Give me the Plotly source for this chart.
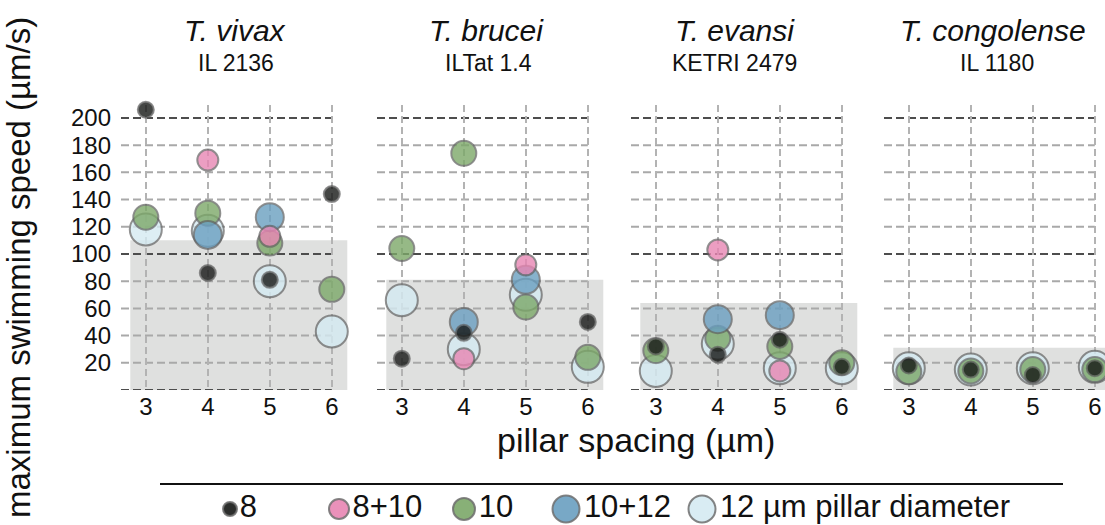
import plotly.graph_objects as go

# ---------------- data ----------------
spacings = [3, 4, 5, 6]
categories = ["8", "8+10", "10", "10+12", "12"]
legend_labels = ["8", "8+10", "10", "10+12", "12 µm pillar diameter"]
species = ["T. vivax", "T. brucei", "T. evansi", "T. congolense"]
strains = ["IL 2136", "ILTat 1.4", "KETRI 2479", "IL 1180"]

vivax_8 = [206, 86, 81, 144]
vivax_8_10 = [None, 169, 113, None]
vivax_10 = [127, 130, 108, 74]
vivax_10_12 = [None, 114, 127, None]
vivax_12 = [118, 117, 80, 43]

brucei_8 = [23, 42, None, 50]
brucei_8_10 = [None, 23, 92, None]
brucei_10 = [104, 174, 61, 24]
brucei_10_12 = [None, 50, 81, None]
brucei_12 = [66, 30, 70, 17]

evansi_8 = [32, 26, 37, 17]
evansi_8_10 = [None, 103, 14, None]
evansi_10 = [29, 38, 32, 20]
evansi_10_12 = [None, 52, 55, None]
evansi_12 = [14, 34, 16, 16]

congolense_8 = [18, 15, 11, 16]
congolense_8_10 = [None, None, None, None]
congolense_10 = [13.5, 14, 15, 15]
congolense_10_12 = [None, None, None, None]
congolense_12 = [16, 15, 16, 17]

shaded_max = [110, 81, 64, 31]
y_ticks = [20, 40, 60, 80, 100, 120, 140, 160, 180, 200]
dark_lines = [0, 100, 200]

panel_data = [
    {"8": vivax_8, "8+10": vivax_8_10, "10": vivax_10, "10+12": vivax_10_12, "12": vivax_12},
    {"8": brucei_8, "8+10": brucei_8_10, "10": brucei_10, "10+12": brucei_10_12, "12": brucei_12},
    {"8": evansi_8, "8+10": evansi_8_10, "10": evansi_10, "10+12": evansi_10_12, "12": evansi_12},
    {"8": congolense_8, "8+10": congolense_8_10, "10": congolense_10,
     "10+12": congolense_10_12, "12": congolense_12},
]

# ---------------- styles ----------------
W, H = 1105, 525
FONT = "Liberation Sans, Arial, Helvetica, sans-serif"
colors = {"8": "#161816", "8+10": "#e886b3", "10": "#7ca869",
          "10+12": "#6a9fc0", "12": "#d5eaf2"}
sizes = {"8": 16, "8+10": 21, "10": 25, "10+12": 28, "12": 32}
legend_sizes = {"8": 14, "8+10": 20, "10": 22, "10+12": 27, "12": 27}
draw_order = ["12", "10", "10+12", "8+10", "8"]
outline = "rgba(95,95,95,0.85)"

panel_left_px = [121, 377, 631, 884]
panel_width_px = 227
px_per_unit = 62.0
x_start = 2.6
plot_top_px, plot_bottom_px = 105, 390
y_range = [0, 209.5]
title_cx = [235, 486, 735, 993]
strain_cx = [236, 488, 734, 997]

def px_x(p):
    return p / W

def px_y(p):
    return 1 - p / H

fig = go.Figure()
layout = dict(
    width=W, height=H,
    margin=dict(l=0, r=0, t=0, b=0),
    paper_bgcolor="white", plot_bgcolor="white",
    showlegend=False,
    font=dict(family=FONT, color="#111"),
)
shapes = []
annotations = []

for i in range(4):
    n = i + 1
    xa = "x" if n == 1 else f"x{n}"
    ya = "y" if n == 1 else f"y{n}"
    left = panel_left_px[i]
    right = min(left + panel_width_px, W)
    x_end = x_start + (right - left) / px_per_unit
    layout["xaxis" if n == 1 else f"xaxis{n}"] = dict(
        domain=[px_x(left), px_x(right)], range=[x_start, x_end],
        anchor=ya, tickvals=spacings, ticktext=[str(s) for s in spacings],
        showgrid=True, gridcolor="#b3b3b3", gridwidth=2, griddash="7px,4px",
        zeroline=False, showline=False, ticks="",
        tickfont=dict(size=24, family=FONT, color="#111"),
    )
    layout["yaxis" if n == 1 else f"yaxis{n}"] = dict(
        domain=[px_y(plot_bottom_px), px_y(plot_top_px)], range=y_range,
        anchor=xa, tickvals=y_ticks, showticklabels=(n == 1),
        showgrid=False, zeroline=False, showline=False, ticks="",
        ticklabelstandoff=9,
        tickfont=dict(size=24, family=FONT, color="#111"),
    )
    # shaded region
    shapes.append(dict(type="rect", xref=xa, yref=ya, x0=2.75, x1=6.25,
                       y0=0, y1=shaded_max[i], fillcolor="#dfe0df",
                       line=dict(width=0), layer="below"))
    # horizontal dashed lines ending at the last spacing
    for yv in [0] + y_ticks:
        dark = yv in dark_lines
        shapes.append(dict(type="line", xref=xa, yref=ya, x0=x_start, x1=spacings[-1],
                           y0=yv, y1=yv, layer="below",
                           line=dict(color="#4d4d4d" if dark else "#a9a9a9",
                                     width=2, dash="8px,4px")))
    # markers
    for cat in draw_order:
        fig.add_trace(go.Scatter(
            x=spacings, y=panel_data[i][cat], mode="markers", xaxis=xa, yaxis=ya,
            name=cat, cliponaxis=False,
            marker=dict(size=sizes[cat], color=colors[cat], opacity=0.8,
                        line=dict(color=outline, width=2)),
            hoverinfo="x+y+name",
        ))
    # titles
    annotations.append(dict(text=f"<i>{species[i]}</i>", x=px_x(title_cx[i]), y=px_y(30),
                            xref="paper", yref="paper", showarrow=False,
                            xanchor="center", yanchor="middle",
                            font=dict(size=30, family=FONT, color="#111")))
    annotations.append(dict(text=strains[i], x=px_x(strain_cx[i]), y=px_y(63),
                            xref="paper", yref="paper", showarrow=False,
                            xanchor="center", yanchor="middle",
                            font=dict(size=23, family=FONT, color="#111")))

# axis titles
annotations.append(dict(text="maximum swimming speed (µm/s)", x=px_x(18), y=px_y(268),
                        xref="paper", yref="paper", showarrow=False, textangle=-90,
                        xanchor="center", yanchor="middle",
                        font=dict(size=33, family=FONT, color="#111")))
annotations.append(dict(text="pillar spacing (µm)", x=px_x(636), y=px_y(440),
                        xref="paper", yref="paper", showarrow=False,
                        xanchor="center", yanchor="middle",
                        font=dict(size=34, family=FONT, color="#111")))

# legend (manual, on an overlay axis in pixel units)
legend_x_px = [230, 339, 464, 566, 702]
legend_y_px = 509
layout["xaxis5"] = dict(domain=[0, 1], range=[0, W], anchor="y5", visible=False)
layout["yaxis5"] = dict(domain=[0, px_y(470)], range=[H, 470], anchor="x5", visible=False)
for k, cat in enumerate(categories):
    fig.add_trace(go.Scatter(
        x=[legend_x_px[k]], y=[legend_y_px], mode="markers+text", xaxis="x5", yaxis="y5",
        text=[legend_labels[k]], textposition="middle right", cliponaxis=False,
        textfont=dict(size=31, family=FONT, color="#111"),
        marker=dict(size=legend_sizes[cat], color=colors[cat], opacity=0.9,
                    line=dict(color=outline, width=2)),
        hoverinfo="skip",
    ))
shapes.append(dict(type="line", xref="paper", yref="paper", x0=px_x(160), x1=px_x(1063),
                   y0=px_y(484), y1=px_y(484), line=dict(color="#111", width=2)))

layout["shapes"] = shapes
layout["annotations"] = annotations
fig.update_layout(**layout)
fig.write_html("out.html")
